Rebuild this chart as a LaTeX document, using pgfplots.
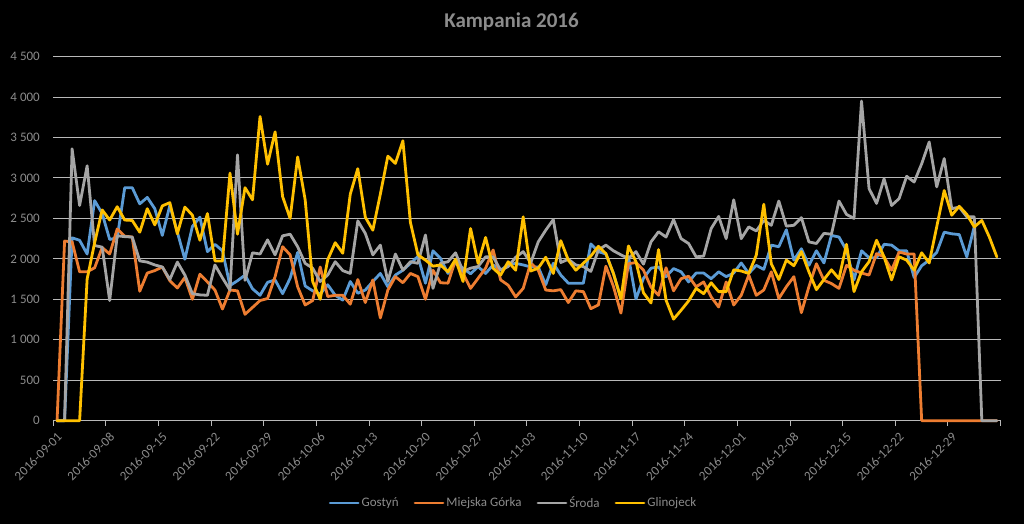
\documentclass[border=0pt]{standalone}
\usepackage{fontspec}
\setmainfont{Carlito}
\usepackage{pgfplots}
\usepackage{pgfplotstable}
\pgfplotsset{compat=1.18}
\definecolor{cblue}{RGB}{91,155,213}
\definecolor{corange}{RGB}{237,125,49}
\definecolor{cgray}{RGB}{165,165,165}
\definecolor{cgold}{RGB}{255,192,0}
\definecolor{txt}{RGB}{140,140,140}
\definecolor{gridc}{RGB}{185,185,185}

\pgfplotstableread{
d g m s y
0 0 0 0 0
1 0 2220 0 0
2 2260 2210 3360 0
3 2230 1840 2660 0
4 2060 1840 3150 1750
5 2720 1890 2165 2200
6 2560 2140 2145 2605
7 2240 2060 1485 2480
8 2260 2370 2285 2645
9 2880 2280 2275 2480
10 2880 2270 2270 2475
11 2680 1600 1975 2330
12 2760 1825 1960 2620
13 2620 1855 1925 2420
14 2290 1900 1900 2655
15 2660 1730 1745 2695
16 2330 1640 1960 2310
17 1995 1770 1800 2640
18 2400 1500 1570 2540
19 2515 1810 1555 2230
20 2090 1715 1550 2560
21 2180 1615 1925 1975
22 2100 1380 1765 1975
23 1670 1615 1615 3060
24 1730 1605 3285 2305
25 1800 1315 1735 2880
26 1630 1400 2075 2730
27 1550 1485 2060 3760
28 1710 1510 2235 3170
29 1740 1780 2050 3570
30 1570 2150 2285 2770
31 1760 2050 2305 2500
32 2080 1655 2150 3260
33 1665 1430 1945 2730
34 1605 1485 1885 1720
35 1565 1900 1720 1500
36 1680 1535 1800 1990
37 1550 1550 1965 2200
38 1490 1550 1855 2070
39 1720 1440 1820 2800
40 1575 1745 2470 3115
41 1615 1460 2315 2515
42 1720 1740 2050 2355
43 1820 1270 2170 2800
44 1655 1615 1720 3270
45 1800 1780 2060 3180
46 1860 1705 1860 3460
47 1945 1820 1965 2450
48 2030 1780 1945 2050
49 1700 1500 2295 1985
50 2100 1860 1635 1910
51 2005 1705 1945 1925
52 1820 1700 1965 1840
53 1955 1990 2075 1995
54 1885 1820 1845 1720
55 1815 1635 1885 2375
56 1905 1760 1905 1945
57 1820 1885 2025 2265
58 1925 2110 2025 1885
59 1860 1740 1860 1800
60 1925 1675 1905 1965
61 1945 1530 2020 1860
62 1925 1635 2090 2520
63 1900 1950 1950 1850
64 1900 1860 2210 1885
65 1680 1615 2355 2020
66 1945 1605 2485 1820
67 1800 1620 1955 2225
68 1700 1460 1995 1985
69 1700 1605 1925 1860
70 1700 1595 1905 1945
71 2185 1385 1845 2035
72 2090 1430 2110 2155
73 2060 1910 2170 2065
74 1820 1660 2100 1820
75 1510 1330 2050 1505
76 2030 1940 2005 2160
77 1505 1955 2090 1965
78 1760 1860 1935 1580
79 1885 1650 2210 1455
80 1900 1550 2335 2115
81 1780 1890 2270 1490
82 1880 1605 2485 1255
83 1840 1755 2250 1365
84 1715 1785 2190 1480
85 1825 1655 2025 1635
86 1825 1715 2035 1570
87 1755 1530 2375 1705
88 1840 1405 2525 1595
89 1780 1715 2250 1595
90 1825 1430 2730 1865
91 1950 1550 2250 1850
92 1820 1800 2395 1820
93 1920 1550 2345 2045
94 1870 1615 2475 2675
95 2170 1840 2415 1940
96 2150 1510 2715 1745
97 2360 1655 2405 1985
98 1985 1780 2415 1915
99 2125 1335 2510 2090
100 1920 1655 2210 1840
101 2100 1940 2190 1620
102 1950 1735 2315 1745
103 2290 1695 2305 1865
104 2270 1635 2715 1755
105 2105 1920 2550 2180
106 1740 1860 2500 1595
107 2100 1825 3950 1840
108 2015 1800 2870 1965
109 2015 2065 2685 2230
110 2180 2025 2990 2025
111 2170 1860 2660 1740
112 2100 2085 2745 2025
113 2100 2060 3020 1985
114 1770 2060 2950 1860
115 1915 0 3175 2075
116 1985 0 3445 1950
117 2080 0 2890 2395
118 2330 0 3240 2845
119 2310 0 2620 2540
120 2300 0 2640 2650
121 2025 0 2520 2550
122 2400 0 2520 2395
123 nan 0 0 2475
124 nan 0 0 2270
125 nan 0 0 2025
}\data

\begin{document}
\begin{tikzpicture}[x=1pt,y=1pt]
\fill[black] (0,0) rectangle (1024,524);
\node[font=\fontsize{21}{25}\selectfont\bfseries, text=txt] at (511.5,502) {Kampania 2016};
\begin{axis}[
  at={(53.3pt,103.3pt)}, anchor=south west,
  scale only axis, width=947.3pt, height=364.1pt,
  xmin=0, xmax=126, ymin=0, ymax=4500,
  clip=false,
  axis line style={draw=none},
  ymajorgrids, grid style={gridc, line width=1pt},
  ytick={0,500,...,4500},
  yticklabels={0,500,1~000,1~500,2~000,2~500,3~000,3~500,4~000,4~500},
  ytick style={draw=none},
  xtick={0,7,...,126},
  xticklabels={2016-09-01,2016-09-08,2016-09-15,2016-09-22,2016-09-29,2016-10-06,2016-10-13,2016-10-20,2016-10-27,2016-11-03,2016-11-10,2016-11-17,2016-11-24,2016-12-01,2016-12-08,2016-12-15,2016-12-22,2016-12-29,{}},
  xtick pos=bottom, tick align=outside, major tick length=5pt,
  xtick style={gridc, line width=1pt},
  ticklabel style={font=\fontsize{13}{15}\selectfont, text=txt},
  xticklabel style={rotate=45, anchor=east, inner sep=1pt, xshift=-1pt, yshift=-11pt},
  yticklabel style={anchor=east, xshift=-5pt},
  legend style={at={(0.4858,-0.226)}, anchor=center, draw=none, fill=none,
    font=\fontsize{13}{15}\selectfont, text=txt,
    nodes={inner sep=2pt},
    /tikz/every even column/.append style={column sep=13pt},
    /tikz/every odd column/.append style={column sep=0pt}},
  legend columns=4,
  legend image code/.code={\draw[#1] (0pt,0pt) -- (28pt,0pt);},
  every axis plot/.append style={line width=2.8pt, line join=round, line cap=round},
]
\addplot[cblue] table[x expr=\thisrow{d}+0.5, y=g] {\data};
\addlegendentry{Gostyń}
\addplot[corange] table[x expr=\thisrow{d}+0.5, y=m] {\data};
\addlegendentry{Miejska Górka}
\addplot[cgray] table[x expr=\thisrow{d}+0.5, y=s] {\data};
\addlegendentry{Środa}
\addplot[cgold] table[x expr=\thisrow{d}+0.5, y=y] {\data};
\addlegendentry{Glinojeck}
\end{axis}
\pgfresetboundingbox
\useasboundingbox (0,0) rectangle (1024,524);
\end{tikzpicture}
\end{document}
